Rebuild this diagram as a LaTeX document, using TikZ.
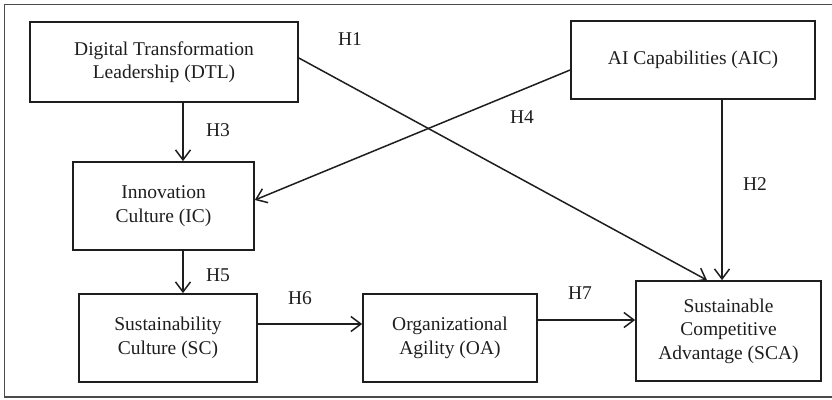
\documentclass[tikz,border=0pt]{standalone}
\usepackage{fontspec}
\setmainfont{Liberation Serif}
\usetikzlibrary{arrows.meta}
\definecolor{inkgray}{RGB}{30,30,30}

\begin{document}
\begin{tikzpicture}[x=1pt,y=-1pt,
  construct/.style={draw=inkgray, line width=1.7pt, align=center, inner sep=0pt,
    font=\fontsize{19.5}{23.5}\selectfont, text=inkgray},
  path/.style={draw=inkgray, line width=1.5pt, -{Straight Barb[length=10pt,width=15pt]}},
  hlabel/.style={font=\fontsize{19.5}{23}\selectfont, text=inkgray}]
  \useasboundingbox (0,0) rectangle (832,399);
  \draw[inkgray!80, line width=1.4pt] (833,4.5) -- (4.5,4.5) -- (4.5,397) -- (833,397);
  % constructs
  \node[construct, minimum width=268pt, minimum height=80pt] (dtl) at (164,62) {Digital Transformation\\Leadership (DTL)};
  \node[construct, minimum width=244pt, minimum height=78pt] (aic) at (693,60) {AI Capabilities (AIC)};
  \node[construct, minimum width=181pt, minimum height=88pt] (ic) at (163.5,206) {Innovation\\Culture (IC)};
  \node[construct, minimum width=178pt, minimum height=88pt] (sc) at (168,338) {Sustainability\\Culture (SC)};
  \node[construct, minimum width=174pt, minimum height=88pt] (oa) at (450,338) {Organizational\\Agility (OA)};
  \node[construct, minimum width=185pt, minimum height=100pt] (sca) at (728.5,331) {Sustainable\\Competitive\\Advantage (SCA)};
  % hypotheses
  \draw[path] ([yshift=4pt]dtl.east) -- ([xshift=-21.5pt]sca.north);
  \draw[path] ([xshift=29pt]aic.south) -- ([xshift=29pt]aic.south |- sca.north);
  \draw[path] ([xshift=19pt]dtl.south) -- ([xshift=19.5pt]ic.north);
  \draw[path] ([yshift=-10pt]aic.west) -- ([yshift=6pt]ic.east);
  \draw[path] ([xshift=19.5pt]ic.south) -- ([xshift=15pt]sc.north);
  \draw[path] ([yshift=14pt]sc.east) -- ([yshift=14pt]oa.west);
  \draw[path] ([yshift=18pt]oa.east) -- ([yshift=18pt]oa.east -| sca.west);
  \node[hlabel] (h1) at (350,39) {H1};
  \node[hlabel] (h2) at (755,184) {H2};
  \node[hlabel] (h3) at (218,130) {H3};
  \node[hlabel] (h4) at (522,117) {H4};
  \node[hlabel] (h5) at (218,275) {H5};
  \node[hlabel] (h6) at (300,298) {H6};
  \node[hlabel] (h7) at (580,293) {H7};
\end{tikzpicture}
\end{document}
